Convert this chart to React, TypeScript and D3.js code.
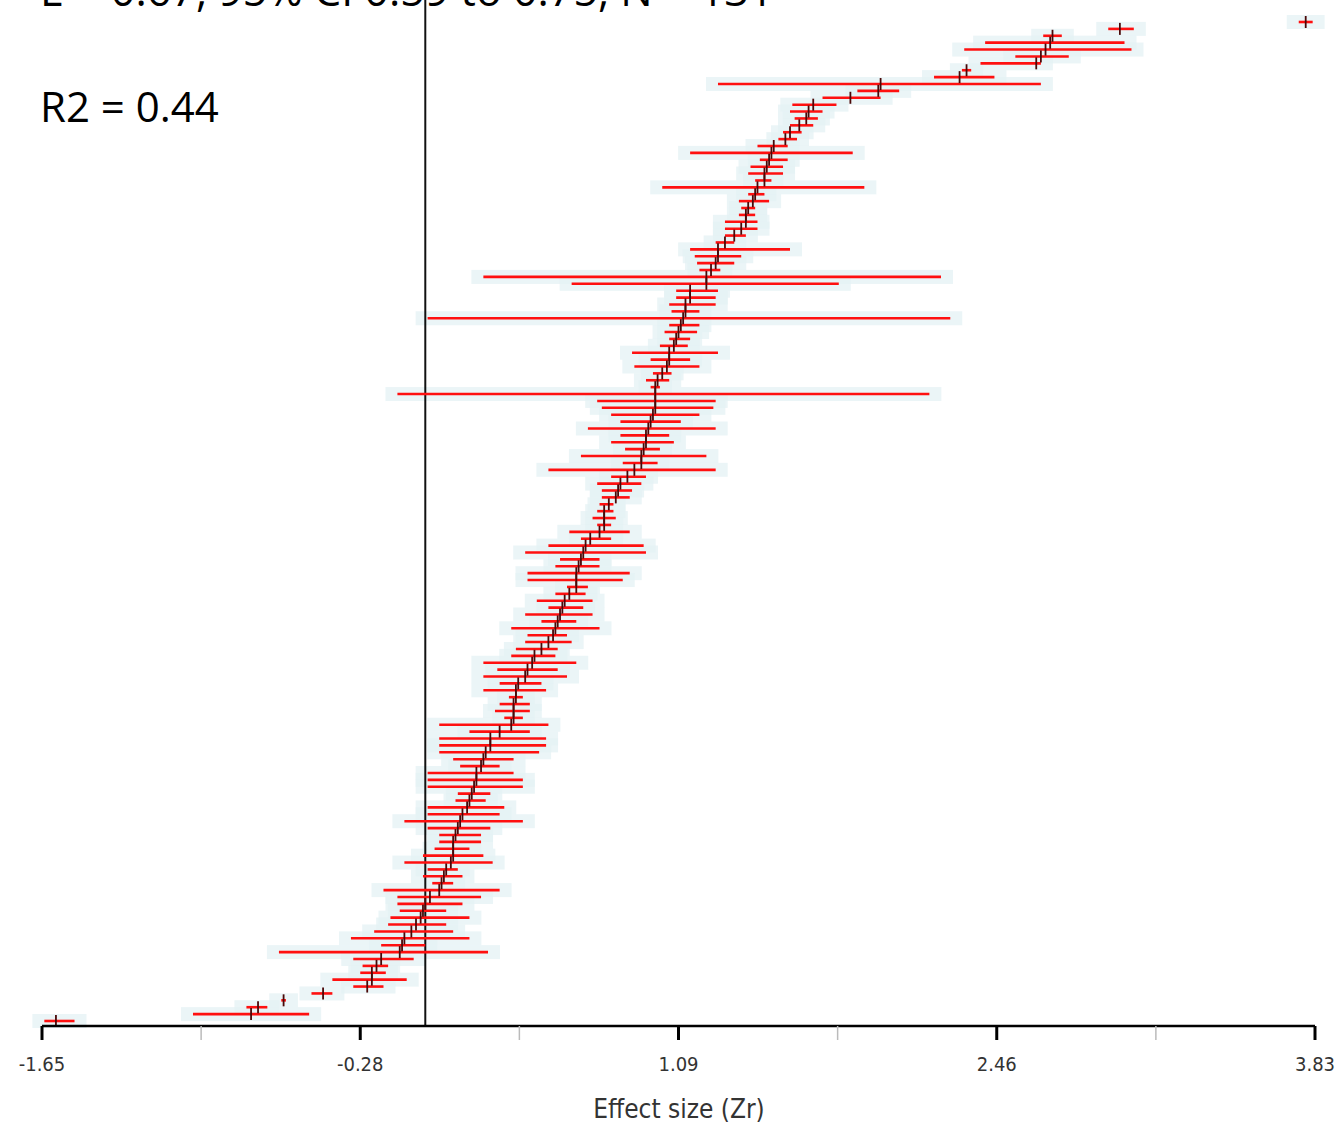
import React from "react";
import * as d3 from "d3";

// Rows ordered from top (largest effect) to bottom (smallest effect)
const effect = [
  3.79, 2.99, 2.70, 2.69, 2.67, 2.65, 2.63, 2.33, 2.30, 1.96,
  1.95, 1.83, 1.67, 1.65, 1.64, 1.61, 1.57, 1.55, 1.50, 1.49,
  1.48, 1.47, 1.46, 1.46, 1.43, 1.42, 1.41, 1.39, 1.38, 1.38,
  1.36, 1.33, 1.29, 1.26, 1.26, 1.25, 1.23, 1.21, 1.21, 1.14,
  1.14, 1.12, 1.12, 1.11, 1.10, 1.09, 1.08, 1.07, 1.05, 1.05,
  1.04, 1.02, 1.00, 0.99, 0.99, 0.99, 0.99, 0.98, 0.97, 0.96,
  0.95, 0.95, 0.94, 0.93, 0.93, 0.90, 0.87, 0.84, 0.83, 0.82,
  0.79, 0.77, 0.77, 0.77, 0.75, 0.71, 0.69, 0.68, 0.67, 0.66,
  0.65, 0.65, 0.65, 0.62, 0.60, 0.59, 0.58, 0.57, 0.56, 0.55,
  0.53, 0.50, 0.47, 0.46, 0.44, 0.43, 0.40, 0.39, 0.39, 0.38,
  0.38, 0.38, 0.37, 0.32, 0.28, 0.28, 0.26, 0.25, 0.24, 0.22,
  0.22, 0.21, 0.20, 0.19, 0.18, 0.16, 0.15, 0.14, 0.13, 0.12,
  0.12, 0.12, 0.11, 0.09, 0.08, 0.07, 0.06, 0.02, 0.00, -0.01,
  -0.02, -0.04, -0.06, -0.09, -0.10, -0.11, -0.19, -0.21, -0.23, -0.23,
  -0.25, -0.44, -0.61, -0.72, -0.75, -1.59,
];
const ciLower = [
  3.76, 2.94, 2.66, 2.41, 2.32, 2.54, 2.39, 2.31, 2.19, 1.26,
  1.86, 1.71, 1.58, 1.57, 1.59, 1.57, 1.54, 1.52, 1.43, 1.14,
  1.44, 1.40, 1.39, 1.42, 1.02, 1.39, 1.35, 1.36, 1.35, 1.29,
  1.29, 1.29, 1.25, 1.14, 1.16, 1.17, 1.18, 0.25, 0.63, 1.08,
  1.08, 1.05, 1.06, 0.01, 1.05, 1.03, 1.05, 1.01, 0.89, 0.97,
  0.90, 0.98, 0.95, 0.97, -0.12, 0.74, 0.76, 0.80, 0.84, 0.70,
  0.84, 0.80, 0.86, 0.67, 0.85, 0.53, 0.80, 0.74, 0.76, 0.76,
  0.75, 0.74, 0.72, 0.74, 0.62, 0.67, 0.53, 0.43, 0.58, 0.56,
  0.44, 0.44, 0.61, 0.56, 0.48, 0.53, 0.43, 0.50, 0.37, 0.44,
  0.43, 0.39, 0.37, 0.25, 0.31, 0.25, 0.32, 0.25, 0.36, 0.32,
  0.30, 0.34, 0.06, 0.19, 0.06, 0.06, 0.06, 0.12, 0.15, 0.01,
  0.01, 0.01, 0.14, 0.13, 0.01, 0.01, -0.09, 0.01, 0.06, 0.06,
  0.04, -0.01, -0.09, 0.01, -0.01, 0.03, -0.18, -0.12, -0.12, -0.11,
  -0.15, -0.16, -0.22, -0.32, -0.19, -0.63, -0.31, -0.27, -0.28, -0.40,
  -0.31, -0.49, -0.62, -0.77, -1.00, -1.64,
];
const ciUpper = [
  3.82, 3.05, 2.74, 3.01, 3.04, 2.77, 2.65, 2.35, 2.45, 2.65,
  2.04, 1.96, 1.77, 1.71, 1.69, 1.67, 1.62, 1.60, 1.56, 1.84,
  1.56, 1.54, 1.54, 1.49, 1.89, 1.46, 1.48, 1.42, 1.42, 1.43,
  1.43, 1.38, 1.33, 1.57, 1.36, 1.33, 1.27, 2.22, 1.78, 1.26,
  1.25, 1.25, 1.18, 2.26, 1.18, 1.17, 1.14, 1.13, 1.26, 1.14,
  1.18, 1.06, 1.05, 1.01, 2.17, 1.25, 1.24, 1.18, 1.10, 1.25,
  1.05, 1.07, 1.01, 1.21, 1.00, 1.25, 0.95, 0.93, 0.89, 0.88,
  0.81, 0.81, 0.82, 0.80, 0.88, 0.80, 0.94, 0.95, 0.75, 0.75,
  0.88, 0.85, 0.70, 0.69, 0.72, 0.68, 0.72, 0.65, 0.75, 0.61,
  0.63, 0.57, 0.56, 0.65, 0.57, 0.61, 0.50, 0.52, 0.42, 0.45,
  0.45, 0.42, 0.53, 0.45, 0.52, 0.52, 0.49, 0.38, 0.32, 0.38,
  0.42, 0.42, 0.28, 0.26, 0.34, 0.32, 0.42, 0.28, 0.24, 0.24,
  0.19, 0.25, 0.29, 0.14, 0.16, 0.12, 0.32, 0.24, 0.16, 0.09,
  0.19, 0.09, 0.12, 0.19, 0.00, 0.27, -0.05, -0.16, -0.17, -0.08,
  -0.18, -0.40, -0.60, -0.68, -0.50, -1.51,
];

const majorTicks = [-1.65, -0.28, 1.09, 2.46, 3.83];
const minorTicks = [-0.965, 0.405, 1.775, 3.145];
const summaryText = "E = 0.67, 95% CI 0.59 to 0.75, N = 131";
const r2Text = "R2 = 0.44";
const axisTitle = "Effect size (Zr)";

export default function App() {
  const W = 1336;
  const H = 1129;
  const x = d3.scaleLinear().domain([-1.65, 3.83]).range([42, 1315]);
  const n = effect.length;
  const y = d3.scaleLinear().domain([0, n - 1]).range([22, 1021]);
  const axisY = 1026;
  const rows = d3.range(n);
  const fmt = (t: number) => t.toFixed(2);

  return (
    <svg
      width={W}
      height={H}
      style={{ position: "absolute", left: 0, top: 0, background: "#fff" }}
    >
      {/* pale background bands */}
      <g>
        {rows.map((i) => (
          <rect
            key={"b" + i}
            x={x(ciLower[i]) - 12}
            y={y(i) - 7}
            width={x(ciUpper[i]) - x(ciLower[i]) + 24}
            height={14}
            fill="#e4f1f4"
            opacity={0.75}
          />
        ))}
      </g>
      {/* zero line */}
      <line x1={x(0)} x2={x(0)} y1={0} y2={axisY} stroke="#111" strokeWidth={2} />
      {/* CI lines */}
      <g>
        {rows.map((i) => (
          <line
            key={"c" + i}
            x1={x(ciLower[i])}
            x2={x(ciUpper[i])}
            y1={y(i)}
            y2={y(i)}
            stroke="#ff1010"
            strokeWidth={2.6}
          />
        ))}
      </g>
      {/* point estimates */}
      <g>
        {rows.map((i) => (
          <line
            key={"p" + i}
            x1={x(effect[i])}
            x2={x(effect[i])}
            y1={y(i) - 6}
            y2={y(i) + 6}
            stroke="#4a0808"
            strokeWidth={1.8}
          />
        ))}
      </g>
      {/* axis */}
      <line x1={x(-1.65)} x2={x(3.83)} y1={axisY} y2={axisY} stroke="#000" strokeWidth={2.5} />
      {majorTicks.map((t) => (
        <g key={"t" + t}>
          <line x1={x(t)} x2={x(t)} y1={axisY} y2={axisY + 14} stroke="#000" strokeWidth={3} />
          <text
            x={x(t)}
            y={axisY + 45}
            textAnchor="middle"
            fontFamily="'DejaVu Sans Condensed', 'DejaVu Sans', sans-serif"
            fontSize={20}
            fill="#333"
          >
            {fmt(t)}
          </text>
        </g>
      ))}
      {minorTicks.map((t) => (
        <line
          key={"m" + t}
          x1={x(t)}
          x2={x(t)}
          y1={axisY}
          y2={axisY + 14}
          stroke="#bbb"
          strokeWidth={1.5}
        />
      ))}
      <text
        x={679}
        y={1118}
        textAnchor="middle"
        fontFamily="'DejaVu Sans Condensed', 'DejaVu Sans', sans-serif"
        fontSize={26}
        fill="#333"
      >
        {axisTitle}
      </text>
      {/* annotations */}
      <text x={40} y={6} fontFamily="'Open Sans', sans-serif" fontSize={43} fill="#000">
        {summaryText}
      </text>
      <text x={40} y={122} fontFamily="'Open Sans', sans-serif" fontSize={42} fill="#000">
        {r2Text}
      </text>
    </svg>
  );
}
